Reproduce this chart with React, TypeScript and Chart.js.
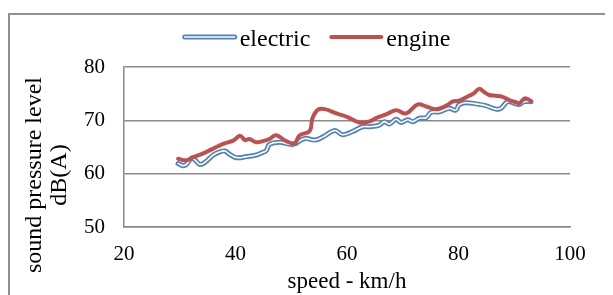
import React, { useEffect, useRef } from 'react';
import { Chart, registerables } from 'chart.js';

Chart.register(...registerables);

// ---- data ----
const seriesNames = ['electric', 'engine'];
const xTitle = 'speed - km/h';
const yTitleLines = ['sound pressure level', 'dB(A)'];
const xRange = [20, 100];
const yRange = [50, 80];

const electricSpeed = [29.7, 30.6, 31.2, 32.1, 32.7, 33.6, 34.5, 36.0, 37.2, 38.1, 39.0, 40.2, 42.0, 43.7, 44.9, 45.5, 46.1, 47.9, 50.3, 52.4, 54.2, 55.7, 57.8, 59.2, 61.0, 62.8, 64.0, 65.8, 66.7, 67.6, 68.8, 69.7, 70.9, 71.8, 73.0, 74.2, 75.1, 76.6, 78.3, 79.5, 80.1, 81.3, 83.7, 84.9, 86.7, 87.6, 88.8, 90.0, 90.9, 91.8, 93.0];
const electricLevel = [61.9, 61.5, 61.75, 62.9, 62.6, 61.75, 62.1, 63.5, 64.1, 64.25, 63.6, 63.0, 63.2, 63.5, 64.0, 64.3, 65.5, 65.9, 65.5, 66.6, 66.3, 66.9, 68.1, 67.3, 67.9, 68.8, 68.8, 69.1, 69.75, 69.3, 70.2, 69.6, 70.1, 69.75, 70.4, 70.5, 71.5, 71.6, 72.25, 71.9, 72.9, 73.3, 73.0, 72.75, 72.1, 72.25, 73.5, 73.2, 73.0, 73.5, 73.5];

const engineSpeed = [29.7, 31.2, 32.4, 34.2, 36.0, 37.8, 39.6, 40.8, 41.7, 42.5, 43.7, 44.9, 46.1, 47.3, 49.1, 50.6, 51.5, 53.3, 53.8, 54.8, 56.0, 58.1, 60.1, 62.2, 64.0, 65.2, 67.0, 68.8, 70.6, 72.7, 74.2, 76.0, 77.8, 78.9, 80.1, 81.9, 82.8, 83.7, 84.6, 85.5, 86.7, 87.9, 89.1, 90.3, 90.9, 91.8, 92.4, 93.0];
const engineLevel = [62.8, 62.5, 63.1, 63.8, 64.7, 65.6, 66.2, 67.1, 66.3, 66.5, 65.9, 66.1, 66.5, 67.2, 66.1, 65.7, 67.2, 68.0, 70.4, 72.0, 72.1, 71.3, 70.6, 69.6, 69.8, 70.4, 71.1, 71.9, 71.3, 73.0, 72.6, 72.1, 72.75, 73.5, 73.7, 74.6, 75.1, 75.9, 75.3, 74.75, 74.6, 74.4, 73.8, 73.4, 73.2, 74.1, 74.0, 73.6];

// ---- styles ----
const BLUE = '#4F81BD';
const RED = '#C0504D';
const GRID = '#8a8a8a';
const FONT = '"Liberation Serif", "Times New Roman", serif';
const CW = 603;
const CH = 280;

const toPoints = (xs: number[], ys: number[]) => xs.map((x, i) => ({ x, y: ys[i] }));

const legendPlugin = {
  id: 'customLegend',
  afterDraw(chart: any) {
    const ctx = chart.ctx as CanvasRenderingContext2D;
    ctx.save();
    ctx.font = `24px ${FONT}`;
    const lineLen = 54;
    const gapText = 3;
    const gapItem = 19;
    const styles = ['double', 'solid'];
    const widths = seriesNames.map((n) => lineLen + gapText + ctx.measureText(n).width);
    const total = widths.reduce((a, b) => a + b, 0) + gapItem * (widths.length - 1);
    let x = chart.width / 2 + 5 - total / 2;
    const ly = 22;
    seriesNames.forEach((name, i) => {
      ctx.lineCap = 'round';
      if (styles[i] === 'double') {
        ctx.strokeStyle = BLUE;
        ctx.lineWidth = 5;
        ctx.beginPath();
        ctx.moveTo(x + 2, ly);
        ctx.lineTo(x + lineLen - 2, ly);
        ctx.stroke();
        ctx.strokeStyle = '#ffffff';
        ctx.lineWidth = 1.6;
        ctx.beginPath();
        ctx.moveTo(x + 2, ly);
        ctx.lineTo(x + lineLen - 2, ly);
        ctx.stroke();
      } else {
        ctx.strokeStyle = RED;
        ctx.lineWidth = 4;
        ctx.beginPath();
        ctx.moveTo(x + 2, ly);
        ctx.lineTo(x + lineLen - 2, ly);
        ctx.stroke();
      }
      ctx.fillStyle = '#000';
      ctx.textBaseline = 'alphabetic';
      ctx.textAlign = 'left';
      ctx.fillText(name, x + lineLen + gapText, 31);
      x += widths[i] + gapItem;
    });
    ctx.restore();
  },
};

const yTitlePlugin = {
  id: 'yTitle',
  afterDraw(chart: any) {
    const ctx = chart.ctx as CanvasRenderingContext2D;
    ctx.save();
    ctx.font = `24px ${FONT}`;
    ctx.fillStyle = '#000';
    ctx.textAlign = 'center';
    ctx.textBaseline = 'middle';
    const cy = 160;
    const xs = [25, 50];
    yTitleLines.forEach((line, i) => {
      ctx.save();
      ctx.translate(xs[i], cy);
      ctx.rotate(-Math.PI / 2);
      ctx.fillText(line, 0, 0);
      ctx.restore();
    });
    ctx.restore();
  },
};

export default function App() {
  const ref = useRef<HTMLCanvasElement | null>(null);

  useEffect(() => {
    document.documentElement.style.overflow = 'hidden';
    document.body.style.overflow = 'hidden';
    const canvas = ref.current;
    if (!canvas) return;
    const electric = toPoints(electricSpeed, electricLevel);
    const engine = toPoints(engineSpeed, engineLevel);
    const common = {
      pointRadius: 0,
      pointHoverRadius: 0,
      tension: 0.4,
      fill: false,
      borderCapStyle: 'round',
      borderJoinStyle: 'round',
    };
    const chart = new Chart(canvas, {
      type: 'line',
      data: {
        datasets: [
          { ...common, label: seriesNames[1], data: engine, borderColor: RED, borderWidth: 4, order: 0 },
          { ...common, label: seriesNames[0] + ' inner', data: electric, borderColor: '#ffffff', borderWidth: 1.6, order: 1 },
          { ...common, label: seriesNames[0], data: electric, borderColor: BLUE, borderWidth: 5, order: 2 },
        ] as any,
      },
      options: {
        responsive: false,
        animation: false,
        devicePixelRatio: 1,
        layout: { padding: { top: 52, right: 43, left: 0, bottom: 0 } },
        plugins: {
          legend: { display: false },
          tooltip: { enabled: false },
        },
        scales: {
          x: {
            type: 'linear',
            min: xRange[0],
            max: xRange[1],
            ticks: {
              stepSize: 20,
              color: '#000',
              padding: 15,
              font: { family: FONT, size: 21 },
              maxRotation: 0,
            },
            grid: { display: false, drawTicks: false },
            border: { display: true, color: GRID, width: 1.5 },
            title: {
              display: true,
              text: xTitle,
              color: '#000',
              font: { family: FONT, size: 23, lineHeight: 1.13 },
              padding: { top: 0, bottom: 0 },
            },
            afterFit: (s: any) => {
              s.height = 68;
            },
          },
          y: {
            type: 'linear',
            min: yRange[0],
            max: yRange[1],
            ticks: {
              stepSize: 10,
              color: '#000',
              padding: 19,
              font: { family: FONT, size: 21 },
            },
            grid: { display: true, color: GRID, lineWidth: 1.5, drawTicks: false },
            border: { display: true, color: GRID, width: 1.5 },
            afterFit: (s: any) => {
              s.width = 114;
            },
          },
        },
      } as any,
      plugins: [legendPlugin, yTitlePlugin],
    });
    return () => chart.destroy();
  }, []);

  return (
    <div style={{ paddingTop: 5 }}>
      <div
        style={{
          borderLeft: '2px solid #8f8f8f',
          borderTop: '2px solid #8f8f8f',
          width: CW,
          height: CH,
          background: '#fff',
        }}
      >
        <canvas ref={ref} width={CW} height={CH} style={{ display: 'block', width: CW, height: CH }} />
      </div>
    </div>
  );
}
